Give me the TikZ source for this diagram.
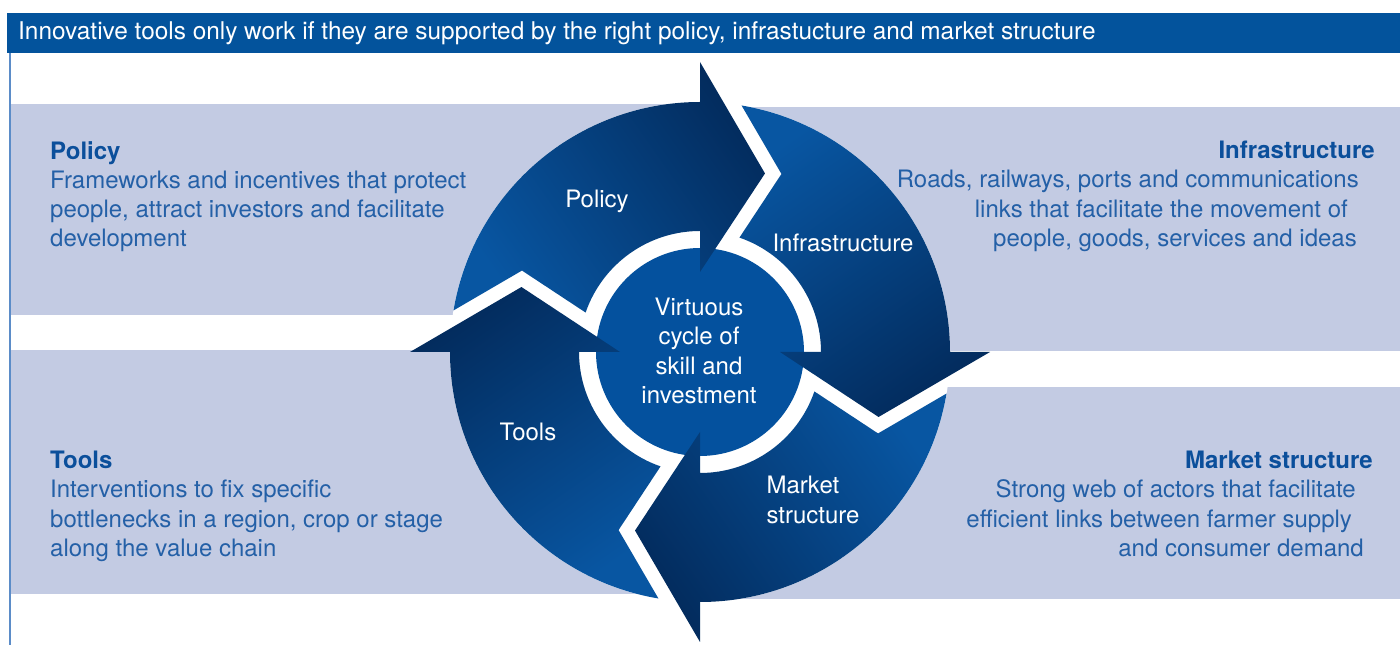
\documentclass[tikz,border=0pt]{standalone}
\usepackage{fontspec}
\setmainfont{TeX Gyre Heros}
\usetikzlibrary{positioning}

\definecolor{barblue}{RGB}{3,83,156}
\definecolor{bandgrey}{RGB}{195,203,227}
\definecolor{headblue}{RGB}{11,79,155}
\definecolor{txtblue}{RGB}{36,96,167}
\definecolor{hubblue}{RGB}{4,81,158}
\definecolor{arrlight}{RGB}{8,86,162}
\definecolor{arrdark}{RGB}{3,44,94}
\definecolor{edgeblue}{RGB}{91,140,200}

\tikzset{
  band/.style={fill=bandgrey},
  blurb/.style={inner sep=0pt, font=\fontsize{24}{29.3}\selectfont, text=txtblue},
  ringlbl/.style={inner sep=0pt, font=\fontsize{24}{29.5}\selectfont, text=white},
}
\newcommand{\hd}[1]{{\bfseries\color{headblue}#1}}
\newcommand{\rpad}[1]{\hbox to #1{\hfil}}

% one arrow of the cycle: #1 angle offset, #2 shading angle
\newcommand{\cyclearrow}[2]{%
  \shade[top color=arrdark, bottom color=arrlight, shading angle=#2]
    ({170.43+#1}:250) arc[start angle={170.43+#1}, end angle={90+#1}, radius=250]
    -- ({90+#1}:290) -- ({70+#1}:190) -- ({90+#1}:80) -- ({90+#1}:121)
    arc[start angle={90+#1}, end angle={160.97+#1}, radius=121]
    -- ({155.42+#1}:195.8) -- cycle;}

\begin{document}
\begin{tikzpicture}[x=1pt,y=1pt]
\useasboundingbox (0,0) rectangle (1400,645);

% title bar
\fill[barblue] (7,592) rectangle (1400,632);
\node[anchor=west, inner sep=0pt, text=white, font=\fontsize{24.4}{28}\selectfont] (title) at (18,612)
  {Innovative tools only work if they are supported by the right policy, infrastucture and market structure};

% bands
\fill[band] (10,330) rectangle (700,541);
\fill[band] (10,51) rectangle (700,295);
\fill[band] (700,294) rectangle (1400,538);
\fill[band] (700,46) rectangle (1400,258);
\draw[edgeblue, line width=1.5pt] (10,592) -- (10,0);

% cycle
\begin{scope}[shift={(700,293)}]
\fill[white] (0,0) circle[radius=250];
\fill[hubblue] (0,0) circle[radius=104];
\cyclearrow{0}{-55}
\cyclearrow{-90}{-145}
\cyclearrow{-180}{125}
\cyclearrow{-270}{35}
\end{scope}

\node[ringlbl, align=center] (hub) at (699,294) {Virtuous\\cycle of\\skill and\\investment};
\node[ringlbl] (pollbl) at (597,444) {Policy};
\node[ringlbl] (inflbl) at (843,402) {Infrastructure};
\node[ringlbl] (tlslbl) at (528,213) {Tools};
\node[ringlbl, align=left] (mktlbl) at (813,145) {Market\\structure};

% side texts
\node[blurb, anchor=north west, align=left] (poltxt) at (50,504)
  {\hd{Policy}\\Frameworks and incentives that protect\\people, attract investors and facilitate\\development};
\node[blurb, anchor=north west, align=left] (tlstxt) at (50,194)
  {\hd{Tools}\\Interventions to fix specific\\bottlenecks in a region, crop or stage\\along the value chain};
\node[blurb, anchor=north east, align=right] (inftxt) at (1375,504)
  {\hd{Infrastructure}\\Roads, railways, ports and communications\rpad{16pt}\\links that facilitate the movement of\rpad{27pt}\\people, goods, services and ideas\rpad{18pt}};
\node[blurb, anchor=north east, align=right] (mkttxt) at (1373,194)
  {\hd{Market structure}\\Strong web of actors that facilitate\rpad{17pt}\\efficient links between farmer supply\rpad{21pt}\\and consumer demand\rpad{9pt}};

\end{tikzpicture}
\end{document}
